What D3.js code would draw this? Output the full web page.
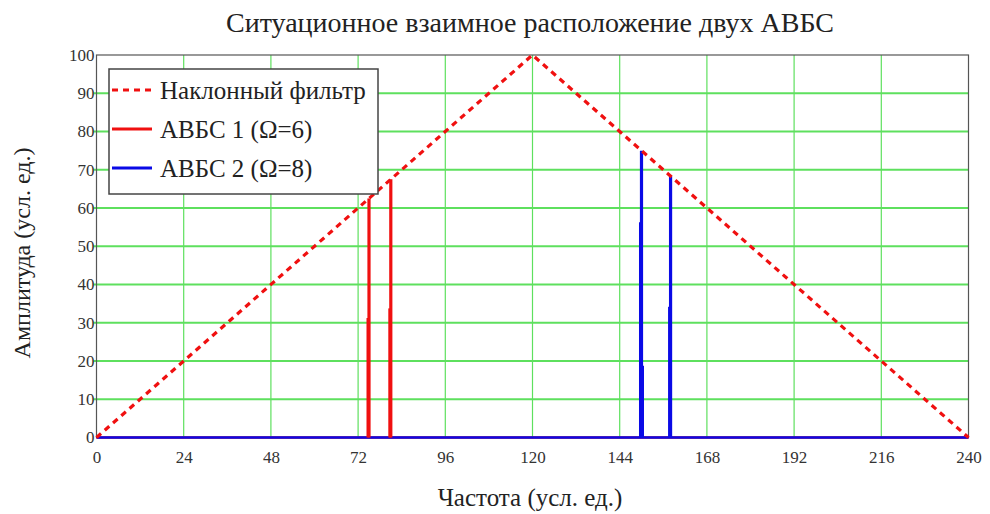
<!DOCTYPE html>
<html>
<head>
<meta charset="utf-8">
<style>
  html, body { margin: 0; padding: 0; background: #fff; }
  svg { display: block; }
</style>
</head>
<body>
<svg id="chart" width="990" height="514">
  <g id="plot"></g>
  <text id="title" x="530" y="32" text-anchor="middle" font-family="Liberation Serif" font-size="28" fill="#222"></text>
  <text id="xlabel" x="530" y="506" text-anchor="middle" font-family="Liberation Serif" font-size="25" fill="#222"></text>
  <text id="ylabel" transform="translate(30,253) rotate(-90)" text-anchor="middle" font-family="Liberation Serif" font-size="24" fill="#222"></text>
</svg>
<script src="https://cdn.jsdelivr.net/npm/d3@7"></script>
<script>
// Slope filter: triangular response over the frequency band
const filterFreq = [0, 120, 240];
const filterAmp = [0, 100, 0];

// Spectral components of the first signal (Ω = 6)
const abvs1Freq = [74.75, 75, 80.75, 81];
const abvs1Amp = [31.25, 62.5, 33.75, 67.5];

// Spectral components of the second signal (Ω = 8)
const abvs2Freq = [149.75, 150, 150.25, 157.75, 158];
const abvs2Amp = [56.25, 75, 18.75, 34.17, 68.33];

const xTicks = [0, 24, 48, 72, 96, 120, 144, 168, 192, 216, 240];
const yTicks = [0, 10, 20, 30, 40, 50, 60, 70, 80, 90, 100];

const titleText = "Ситуационное взаимное расположение двух АВБС";
const xLabel = "Частота (усл. ед.)";
const yLabel = "Амплитуда (усл. ед.)";
const legendLabels = ["Наклонный фильтр", "АВБС 1 (Ω=6)", "АВБС 2 (Ω=8)"];

const RED = "#f01010", BLUE = "#0a0ae6", GRID = "#5ee05e";
const FONT = "Liberation Serif";

const plot = d3.select("#plot");
const m = { left: 96.5, right: 968.5, top: 55, bottom: 437.5 };

const x = d3.scaleLinear().domain([0, 240]).range([m.left, m.right]);
const y = d3.scaleLinear().domain([0, 100]).range([m.bottom, m.top]);

d3.select("#title").text(titleText);
d3.select("#xlabel").text(xLabel);
d3.select("#ylabel").text(yLabel);

// plot background
plot.append("rect").attr("x", m.left).attr("y", m.top)
  .attr("width", m.right - m.left).attr("height", m.bottom - m.top)
  .attr("fill", "#fff");

// grid
plot.append("g").selectAll("line").data(xTicks.slice(1, -1)).join("line")
  .attr("x1", d => x(d)).attr("x2", d => x(d))
  .attr("y1", m.top).attr("y2", m.bottom)
  .attr("stroke", GRID).attr("stroke-width", 1.2);
plot.append("g").selectAll("line").data(yTicks.slice(1, -1)).join("line")
  .attr("x1", m.left - 3).attr("x2", m.right)
  .attr("y1", d => y(d)).attr("y2", d => y(d))
  .attr("stroke", GRID).attr("stroke-width", 1.8);

// frame
plot.append("rect").attr("x", m.left).attr("y", m.top)
  .attr("width", m.right - m.left).attr("height", m.bottom - m.top)
  .attr("fill", "none").attr("stroke", "#555").attr("stroke-width", 1.2);

// axes (labels only; the grid provides the tick marks)
const xAxis = plot.append("g").attr("transform", `translate(0,${m.bottom})`)
  .call(d3.axisBottom(x).tickValues(xTicks).tickSize(0).tickPadding(13));
xAxis.select(".domain").remove();
xAxis.attr("font-family", FONT).attr("font-size", 17);
xAxis.selectAll("text").attr("fill", "#333");

const yAxis = plot.append("g").attr("transform", `translate(${m.left},0)`)
  .call(d3.axisLeft(y).tickValues(yTicks).tickSize(0).tickPadding(2));
yAxis.select(".domain").remove();
yAxis.attr("font-family", FONT).attr("font-size", 17);
yAxis.selectAll("text").attr("fill", "#333");

// baselines of both spectra
plot.append("line").attr("x1", x(0)).attr("x2", x(240)).attr("y1", y(0)).attr("y2", y(0))
  .attr("stroke", RED).attr("stroke-width", 2.5);
plot.append("line").attr("x1", x(0)).attr("x2", x(240)).attr("y1", y(0)).attr("y2", y(0))
  .attr("stroke", BLUE).attr("stroke-width", 2.5);

// spectral lines
function spikes(freqs, amps, color) {
  plot.append("g").selectAll("line").data(freqs).join("line")
    .attr("x1", d => x(d)).attr("x2", d => x(d))
    .attr("y1", y(0)).attr("y2", (d, i) => y(amps[i]))
    .attr("stroke", color).attr("stroke-width", 3.2);
}
spikes(abvs1Freq, abvs1Amp, RED);
spikes(abvs2Freq, abvs2Amp, BLUE);

// filter trace
const line = d3.line().x(d => x(d[0])).y(d => y(d[1]));
const filterPts = filterFreq.map((f, i) => [f, filterAmp[i]]);
plot.append("path").datum(filterPts).attr("d", line)
  .attr("fill", "none").attr("stroke", RED).attr("stroke-width", 3.2)
  .attr("stroke-dasharray", "6,5");

// legend
const lg = plot.append("g");
lg.append("rect").attr("x", 109).attr("y", 69).attr("width", 269).attr("height", 125)
  .attr("fill", "#fff").attr("stroke", "#444").attr("stroke-width", 1.5);
const legendStyles = [
  { color: RED, dash: "6,5", w: 3.2 },
  { color: RED, dash: null, w: 3 },
  { color: BLUE, dash: null, w: 3 }
];
const rowY = [90, 129, 168];
legendLabels.forEach((t, i) => {
  lg.append("line").attr("x1", 112).attr("x2", 152).attr("y1", rowY[i]).attr("y2", rowY[i])
    .attr("stroke", legendStyles[i].color).attr("stroke-width", legendStyles[i].w)
    .attr("stroke-dasharray", legendStyles[i].dash);
  lg.append("text").attr("x", 160).attr("y", rowY[i]).attr("dy", "0.35em")
    .attr("font-family", FONT).attr("font-size", 25).attr("fill", "#222").text(t);
});
</script>
</body>
</html>
